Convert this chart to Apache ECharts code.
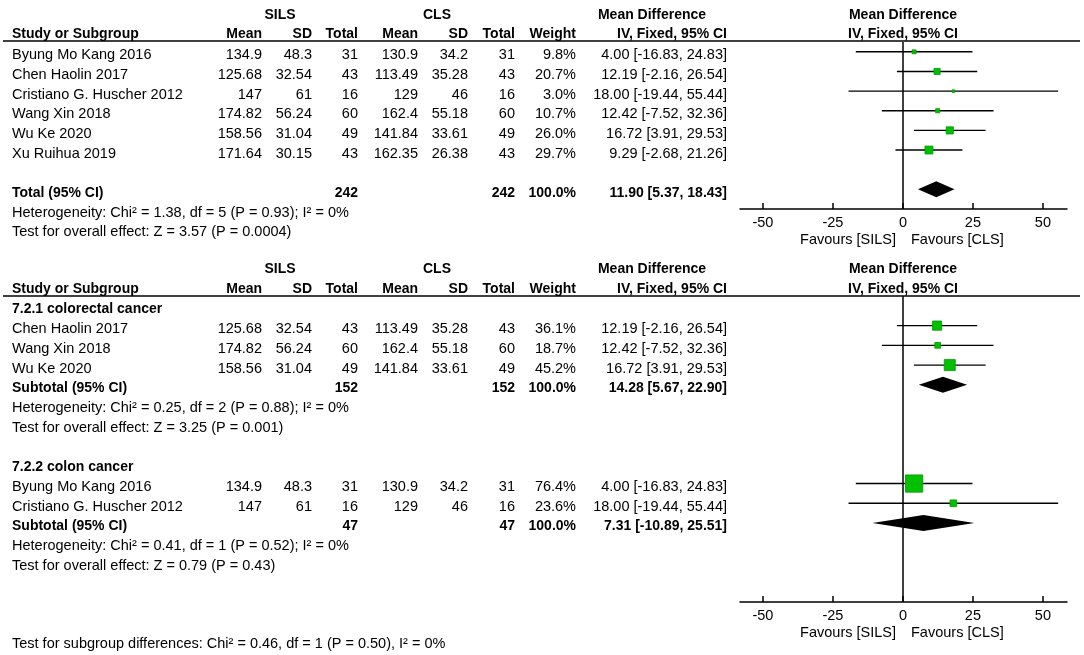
<!DOCTYPE html>
<html>
<head>
<meta charset="utf-8">
<script src="https://cdn.jsdelivr.net/npm/echarts@6/dist/echarts.min.js"></script>
<style>
html,body{margin:0;padding:0;background:#fff}
#main{width:1084px;height:655px}
</style>
</head>
<body>
<div id="main"></div>
<script>
// 全部研究 (overall)
var names1 = ['Byung Mo Kang 2016', 'Chen Haolin 2017', 'Cristiano G. Huscher 2012', 'Wang Xin 2018', 'Wu Ke 2020', 'Xu Ruihua 2019'];
var silsMean1 = [134.9, 125.68, 147, 174.82, 158.56, 171.64];
var silsSD1 = [48.3, 32.54, 61, 56.24, 31.04, 30.15];
var silsN1 = [31, 43, 16, 60, 49, 43];
var clsMean1 = [130.9, 113.49, 129, 162.4, 141.84, 162.35];
var clsSD1 = [34.2, 35.28, 46, 55.18, 33.61, 26.38];
var clsN1 = [31, 43, 16, 60, 49, 43];
var weight1 = [9.8, 20.7, 3.0, 10.7, 26.0, 29.7];
var md1 = [4.00, 12.19, 18.00, 12.42, 16.72, 9.29];
var lo1 = [-16.83, -2.16, -19.44, -7.52, 3.91, -2.68];
var hi1 = [24.83, 26.54, 55.44, 32.36, 29.53, 21.26];
var total1 = [242, 242, 11.90, 5.37, 18.43];   // nSILS, nCLS, md, lo, hi
var het1 = 'Heterogeneity: Chi\u00b2 = 1.38, df = 5 (P = 0.93); I\u00b2 = 0%';
var eff1 = 'Test for overall effect: Z = 3.57 (P = 0.0004)';

// 7.2.1 colorectal cancer
var namesA = ['Chen Haolin 2017', 'Wang Xin 2018', 'Wu Ke 2020'];
var silsMeanA = [125.68, 174.82, 158.56];
var silsSDA = [32.54, 56.24, 31.04];
var silsNA = [43, 60, 49];
var clsMeanA = [113.49, 162.4, 141.84];
var clsSDA = [35.28, 55.18, 33.61];
var clsNA = [43, 60, 49];
var weightA = [36.1, 18.7, 45.2];
var mdA = [12.19, 12.42, 16.72];
var loA = [-2.16, -7.52, 3.91];
var hiA = [26.54, 32.36, 29.53];
var totalA = [152, 152, 14.28, 5.67, 22.90];
var hetA = 'Heterogeneity: Chi\u00b2 = 0.25, df = 2 (P = 0.88); I\u00b2 = 0%';
var effA = 'Test for overall effect: Z = 3.25 (P = 0.001)';

// 7.2.2 colon cancer
var namesB = ['Byung Mo Kang 2016', 'Cristiano G. Huscher 2012'];
var silsMeanB = [134.9, 147];
var silsSDB = [48.3, 61];
var silsNB = [31, 16];
var clsMeanB = [130.9, 129];
var clsSDB = [34.2, 46];
var clsNB = [31, 16];
var weightB = [76.4, 23.6];
var mdB = [4.00, 18.00];
var loB = [-16.83, -19.44];
var hiB = [24.83, 55.44];
var totalB = [47, 47, 7.31, -10.89, 25.51];
var hetB = 'Heterogeneity: Chi\u00b2 = 0.41, df = 1 (P = 0.52); I\u00b2 = 0%';
var effB = 'Test for overall effect: Z = 0.79 (P = 0.43)';

var subDiff = 'Test for subgroup differences: Chi\u00b2 = 0.46, df = 1 (P = 0.50), I\u00b2 = 0%';
var tickVals = [-50, -25, 0, 25, 50];

var FONT = 'Arial, "Liberation Sans", sans-serif';
var GREEN = '#00c000';
var colX = [262, 312, 358, 418, 468, 515, 576, 727];

var myChart = echarts.init(document.getElementById('main'));

function studyData(lo, hi, md, w, rowStart) {
    return md.map(function (m, i) { return [lo[i], hi[i], m, rowStart + i, w[i]]; });
}

function renderStudy(params, api) {
    var a = api.coord([api.value(0), api.value(3)]);
    var b = api.coord([api.value(1), api.value(3)]);
    var c = api.coord([api.value(2), api.value(3)]);
    var s = 2 + 0.2 * api.value(4);
    return {
        type: 'group',
        children: [
            { type: 'line', shape: { x1: a[0], y1: a[1], x2: b[0], y2: b[1] }, style: { stroke: '#000', lineWidth: 1.4 } },
            { type: 'rect', shape: { x: c[0] - s / 2, y: c[1] - s / 2, width: s, height: s }, style: { fill: GREEN, stroke: '#009a00', lineWidth: 0.8 } }
        ]
    };
}

function renderDiamond(params, api) {
    var a = api.coord([api.value(0), api.value(3)]);
    var b = api.coord([api.value(1), api.value(3)]);
    var c = api.coord([api.value(2), api.value(3)]);
    return {
        type: 'polygon',
        shape: { points: [a, [c[0], c[1] - 8], b, [c[0], c[1] + 8]] },
        style: { fill: '#000' }
    };
}

function xAxisOf(i) {
    return {
        gridIndex: i, type: 'value', min: -58.2, max: 58.6, position: 'bottom',
        axisLine: { onZero: false, lineStyle: { color: '#000', width: 1.5 } },
        axisTick: { inside: true, length: 6, customValues: tickVals, lineStyle: { color: '#000', width: 1.5 } },
        axisLabel: { customValues: tickVals, color: '#000', fontSize: 14.5, fontFamily: FONT, margin: 6 },
        splitLine: { show: false }
    };
}

var zeroLine = {
    silent: true, symbol: 'none', label: { show: false },
    lineStyle: { color: '#000', width: 1.5, type: 'solid' },
    data: [{ xAxis: 0 }]
};

option = {
    animation: false,
    grid: [
        { left: 740, width: 327, top: 42, height: 167 },
        { left: 740, width: 327, top: 296, height: 306 }
    ],
    xAxis: [xAxisOf(0), xAxisOf(1)],
    yAxis: [
        { gridIndex: 0, type: 'value', show: false, inverse: true, min: -0.5, max: 8 },
        { gridIndex: 1, type: 'value', show: false, inverse: true, min: -0.5, max: 15 }
    ],
    series: [
        {
            type: 'custom', xAxisIndex: 0, yAxisIndex: 0, renderItem: renderStudy,
            encode: { x: [0, 1, 2], y: 3 },
            data: studyData(lo1, hi1, md1, weight1, 0),
            markLine: zeroLine, z: 3
        },
        {
            type: 'custom', xAxisIndex: 0, yAxisIndex: 0, renderItem: renderDiamond,
            encode: { x: [0, 1, 2], y: 3 },
            data: [[total1[3], total1[4], total1[2], 7]], z: 3
        },
        {
            type: 'custom', xAxisIndex: 1, yAxisIndex: 1, renderItem: renderStudy,
            encode: { x: [0, 1, 2], y: 3 },
            data: studyData(loA, hiA, mdA, weightA, 1).concat(studyData(loB, hiB, mdB, weightB, 9)),
            markLine: zeroLine, z: 3
        },
        {
            type: 'custom', xAxisIndex: 1, yAxisIndex: 1, renderItem: renderDiamond,
            encode: { x: [0, 1, 2], y: 3 },
            data: [[totalA[3], totalA[4], totalA[2], 4], [totalB[3], totalB[4], totalB[2], 11]], z: 3
        }
    ]
};
myChart.setOption(option);

// 表格文字
var g = [];
function txt(s, x, y, align, bold) {
    g.push({
        type: 'text', x: x, y: y, silent: true,
        style: { text: String(s), fill: '#000', fontFamily: FONT, fontSize: bold ? 14 : 14.5, fontWeight: bold ? 'bold' : 'normal', align: align || 'right', verticalAlign: 'middle' }
    });
}
function hline(y) {
    g.push({ type: 'line', silent: true, shape: { x1: 3, y1: y, x2: 1080, y2: y }, style: { stroke: '#000', lineWidth: 1.5 } });
}
function rowY(ax, k) { return myChart.convertToPixel({ yAxisIndex: ax }, k) + 3.5; }
function ci(m, l, h) { return m.toFixed(2) + ' [' + l.toFixed(2) + ', ' + h.toFixed(2) + ']'; }

function header(y1, y2, lineY) {
    txt('SILS', 280, y1, 'center', true);
    txt('CLS', 437, y1, 'center', true);
    txt('Mean Difference', 652, y1, 'center', true);
    txt('Mean Difference', 903, y1, 'center', true);
    txt('Study or Subgroup', 12, y2, 'left', true);
    ['Mean', 'SD', 'Total', 'Mean', 'SD', 'Total', 'Weight', 'IV, Fixed, 95% CI'].forEach(function (h, i) { txt(h, colX[i], y2, 'right', true); });
    txt('IV, Fixed, 95% CI', 903, y2, 'center', true);
    hline(lineY);
}

function studyRows(ax, k0, nm, sm, ss, sn, cm, cs, cn, w, md, lo, hi) {
    nm.forEach(function (n, i) {
        var y = rowY(ax, k0 + i);
        txt(n, 12, y, 'left');
        [sm[i], ss[i], sn[i], cm[i], cs[i], cn[i], w[i].toFixed(1) + '%', ci(md[i], lo[i], hi[i])].forEach(function (v, j) { txt(v, colX[j], y, 'right'); });
    });
}

function totalRow(ax, k, label, t) {
    var y = rowY(ax, k);
    txt(label, 12, y, 'left', true);
    txt(t[0], colX[2], y, 'right', true);
    txt(t[1], colX[5], y, 'right', true);
    txt('100.0%', colX[6], y, 'right', true);
    txt(ci(t[2], t[3], t[4]), colX[7], y, 'right', true);
}

function favours(ax) {
    var y = myChart.convertToPixel({ yAxisIndex: ax }, ax === 0 ? 8 : 15) + 31;
    txt('Favours [SILS]', 896, y, 'right');
    txt('Favours [CLS]', 911, y, 'left');
}

header(15, 34, 41);
studyRows(0, 0, names1, silsMean1, silsSD1, silsN1, clsMean1, clsSD1, clsN1, weight1, md1, lo1, hi1);
totalRow(0, 7, 'Total (95% CI)', total1);
txt(het1, 12, rowY(0, 8), 'left');
txt(eff1, 12, rowY(0, 9), 'left');
favours(0);

header(269, 289, 296);
txt('7.2.1 colorectal cancer', 12, rowY(1, 0), 'left', true);
studyRows(1, 1, namesA, silsMeanA, silsSDA, silsNA, clsMeanA, clsSDA, clsNA, weightA, mdA, loA, hiA);
totalRow(1, 4, 'Subtotal (95% CI)', totalA);
txt(hetA, 12, rowY(1, 5), 'left');
txt(effA, 12, rowY(1, 6), 'left');
txt('7.2.2 colon cancer', 12, rowY(1, 8), 'left', true);
studyRows(1, 9, namesB, silsMeanB, silsSDB, silsNB, clsMeanB, clsSDB, clsNB, weightB, mdB, loB, hiB);
totalRow(1, 11, 'Subtotal (95% CI)', totalB);
txt(hetB, 12, rowY(1, 12), 'left');
txt(effB, 12, rowY(1, 13), 'left');
favours(1);
txt(subDiff, 12, 644, 'left');

myChart.setOption({ graphic: g });
</script>
</body>
</html>
